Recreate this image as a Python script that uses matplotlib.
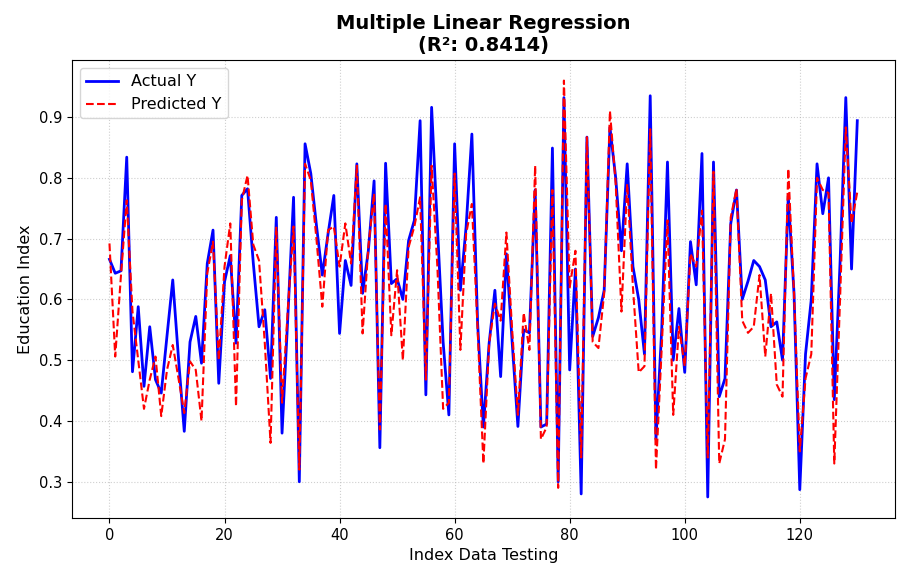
import numpy as np
import matplotlib
matplotlib.use("Agg")
import matplotlib.pyplot as plt

r2 = 0.8414

actual_y = [0.666, 0.643, 0.647, 0.834, 0.481, 0.588, 0.457, 0.555, 0.468, 0.446,
            0.54, 0.632, 0.503, 0.383, 0.53, 0.572, 0.495, 0.659, 0.714, 0.462,
            0.629, 0.672, 0.528, 0.771, 0.782, 0.66, 0.555, 0.583, 0.47, 0.735,
            0.38, 0.57, 0.768, 0.30, 0.856, 0.807, 0.72, 0.64, 0.708, 0.771,
            0.544, 0.664, 0.623, 0.823, 0.61, 0.68, 0.795, 0.356, 0.824, 0.626,
            0.634, 0.60, 0.697, 0.73, 0.894, 0.443, 0.916, 0.72, 0.53, 0.41,
            0.856, 0.615, 0.72, 0.872, 0.56, 0.39, 0.528, 0.615, 0.473, 0.675,
            0.53, 0.391, 0.55, 0.545, 0.78, 0.39, 0.395, 0.849, 0.30, 0.932,
            0.484, 0.65, 0.28, 0.867, 0.539, 0.57, 0.615, 0.883, 0.80, 0.68,
            0.823, 0.654, 0.60, 0.51, 0.935, 0.37, 0.55, 0.826, 0.50, 0.585,
            0.48, 0.695, 0.624, 0.84, 0.275, 0.826, 0.44, 0.47, 0.725, 0.78,
            0.60, 0.63, 0.664, 0.654, 0.632, 0.555, 0.563, 0.50, 0.77, 0.61,
            0.287, 0.51, 0.60, 0.823, 0.741, 0.80, 0.435, 0.66, 0.932, 0.65,
            0.894]

predicted_y = [0.692, 0.506, 0.64, 0.763, 0.58, 0.50, 0.42, 0.468, 0.506, 0.408,
               0.484, 0.525, 0.47, 0.413, 0.498, 0.484, 0.40, 0.643, 0.695, 0.50,
               0.654, 0.725, 0.424, 0.763, 0.804, 0.69, 0.664, 0.528, 0.364, 0.718,
               0.43, 0.583, 0.72, 0.32, 0.823, 0.796, 0.697, 0.588, 0.714, 0.72,
               0.654, 0.725, 0.659, 0.82, 0.544, 0.686, 0.774, 0.386, 0.757, 0.541,
               0.648, 0.50, 0.686, 0.72, 0.768, 0.468, 0.82, 0.654, 0.42, 0.43,
               0.807, 0.517, 0.708, 0.757, 0.55, 0.33, 0.528, 0.593, 0.565, 0.71,
               0.55, 0.41, 0.578, 0.517, 0.82, 0.37, 0.39, 0.78, 0.29, 0.96,
               0.62, 0.68, 0.34, 0.867, 0.53, 0.52, 0.61, 0.91, 0.79, 0.58,
               0.79, 0.62, 0.48, 0.49, 0.88, 0.32, 0.52, 0.73, 0.41, 0.555,
               0.49, 0.675, 0.654, 0.746, 0.34, 0.81, 0.33, 0.37, 0.735, 0.782,
               0.565, 0.545, 0.555, 0.64, 0.506, 0.61, 0.46, 0.44, 0.815, 0.61,
               0.35, 0.47, 0.51, 0.80, 0.78, 0.775, 0.33, 0.60, 0.883, 0.725,
               0.777]

idx = np.arange(len(actual_y))

fig, ax = plt.subplots(figsize=(9.01, 5.69), dpi=100)
fig.subplots_adjust(left=0.08, right=0.993, top=0.895, bottom=0.09)

ax.plot(idx, actual_y, color="blue", linewidth=2, label="Actual Y")
ax.plot(idx, predicted_y, color="red", linestyle="--", linewidth=1.5, label="Predicted Y")

ax.set_title(f"Multiple Linear Regression\n(R²: {r2:.4f})", fontsize=14, fontweight="bold")
ax.set_xlabel("Index Data Testing", fontsize=11.5)
ax.set_ylabel("Education Index", fontsize=11.5)
ax.tick_params(labelsize=10.5)
ax.grid(True, linestyle=":", alpha=0.6)
ax.legend(loc="upper left", fontsize=11.5)

fig.savefig("out.png")
